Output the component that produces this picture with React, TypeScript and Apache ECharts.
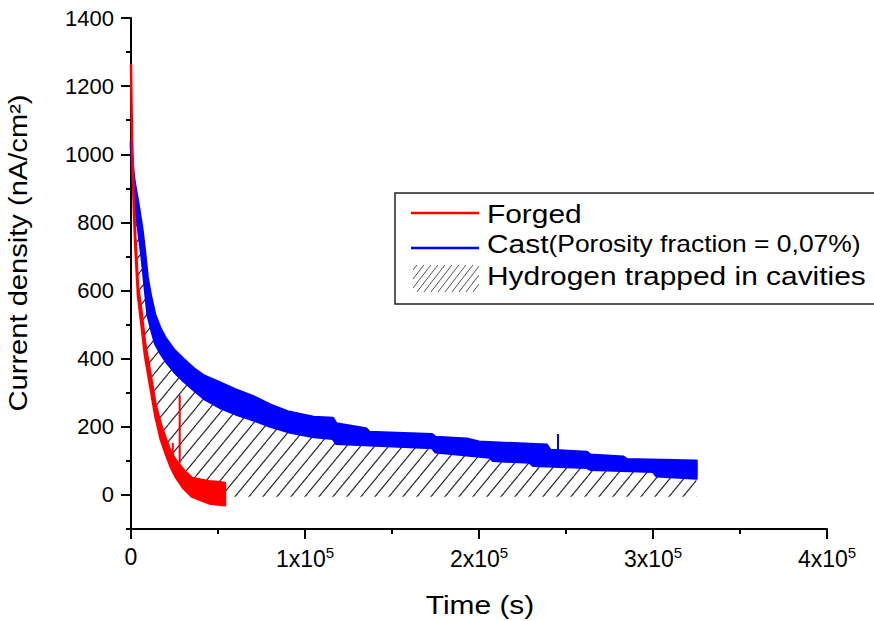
import React, { useEffect, useRef } from 'react';
import * as echarts from 'echarts';

// ---- data ----
// Forged (red) noisy band: upper and lower envelopes
const redT = [0, 300, 800, 1500, 2500, 4000, 6000, 8000, 11000, 14000, 17000, 20000, 23000, 26000, 30000, 35000, 40000, 45000, 50000, 54000];
const redUpper = [1262, 1150, 1010, 885, 755, 615, 540, 450, 360, 270, 210, 165, 125, 100, 75, 50, 45, 40, 38, 35];
const redLower = [1262, 1140, 990, 855, 725, 585, 500, 410, 320, 230, 165, 120, 80, 50, 20, -5, -15, -25, -28, -30];

// Cast (blue) noisy band: upper envelope
const blueUpperT = [0, 1000, 2000, 3400, 5000, 6500, 8000, 9500, 11400, 13800, 17000, 20000, 25000, 30000, 36000, 42000, 51000, 60000, 70000, 80000, 90000, 105000, 116000, 118000, 135000, 137000, 173000, 175000, 193000, 200000, 239000, 241000, 262000, 264000, 283000, 285000, 325000];
const blueUpperV = [1040, 965, 920, 880, 830, 780, 715, 640, 585, 530, 488, 460, 425, 400, 372, 350, 330, 310, 290, 265, 245, 229, 226, 210, 195, 185, 178, 170, 165, 156, 147, 132, 126, 118, 112, 105, 100];
// Cast (blue) noisy band: lower envelope
const blueLowerT = [0, 1000, 2000, 3400, 5000, 6500, 8000, 9500, 11400, 13800, 17000, 20000, 25000, 30000, 36000, 42000, 51000, 60000, 70000, 80000, 90000, 105000, 116000, 118000, 173000, 175000, 206000, 208000, 229000, 231000, 262000, 264000, 300000, 302000, 325000];
const blueLowerV = [1020, 925, 865, 810, 745, 680, 605, 530, 490, 445, 415, 392, 360, 335, 308, 282, 256, 237, 220, 201, 185, 170, 165, 150, 138, 125, 110, 100, 95, 86, 80, 74, 68, 55, 48];

const redSpikeT = [24000, 28000];
const redSpikeBase = [100, 94];
const redSpikePeak = [153, 293];
const blueSpikeT = [245400];
const blueSpikeBase = [125];
const blueSpikePeak = [179];

const hatchBase = -5;

const yMajorTicks = [0, 200, 400, 600, 800, 1000, 1200, 1400];
const yMinorTicks = [-100, 100, 300, 500, 700, 900, 1100, 1300];

const legendForged = 'Forged';
const legendCastMain = 'Cast';
const legendCastNote = '(Porosity fraction = 0,07%)';
const legendHatch = 'Hydrogen trapped in cavities';
const xTitle = 'Time (s)';
const yTitle = 'Current density (nA/cm²)';

const FONT = '"Liberation Sans", Arial, sans-serif';
const RED = '#ff0000';
const BLUE = '#0000ff';
const STRETCH = 1.15;

function makeHatch(w: number, h: number, color: string, lw: number) {
  const c = document.createElement('canvas');
  c.width = w;
  c.height = h;
  const ctx = c.getContext('2d')!;
  ctx.strokeStyle = color;
  ctx.lineWidth = lw;
  for (const off of [-w, 0, w]) {
    ctx.beginPath();
    ctx.moveTo(off, h);
    ctx.lineTo(off + w, 0);
    ctx.stroke();
  }
  return c;
}

export default function App() {
  const ref = useRef<HTMLDivElement>(null);
  useEffect(() => {
    if (!ref.current) return;
    const chart = echarts.init(ref.current, undefined, { renderer: 'svg' });
    const hatch = makeHatch(14, 17, '#2a2a2a', 1.2);
    const hatchSmall = makeHatch(7, 9, '#555555', 1);

    const band = (ut: number[], uv: number[], lt: number[], lv: number[], color: string) => ({
      type: 'custom',
      data: [[ut[0], uv[0]]],
      clip: false,
      renderItem: (_p: any, api: any) => {
        const pts: number[][] = [];
        for (let i = 0; i < ut.length; i++) pts.push(api.coord([ut[i], uv[i]]));
        for (let i = lt.length - 1; i >= 0; i--) pts.push(api.coord([lt[i], lv[i]]));
        return {
          type: 'polygon',
          shape: { points: pts },
          style: { fill: color, stroke: color, lineWidth: 2.5, lineJoin: 'round' },
        };
      },
    });

    const spikes = (t: number[], b: number[], p: number[], color: string) => ({
      type: 'custom',
      data: t.map((v, i) => [v, b[i], p[i]]),
      renderItem: (_p: any, api: any) => {
        const a = api.coord([api.value(0), api.value(1)]);
        const c = api.coord([api.value(0), api.value(2)]);
        return {
          type: 'line',
          shape: { x1: a[0], y1: a[1], x2: c[0], y2: c[1] },
          style: { stroke: color, lineWidth: 2 },
        };
      },
    });

    const hatchSeries = {
      type: 'custom',
      data: [[0, 0]],
      clip: false,
      renderItem: (_p: any, api: any) => {
        const pts: number[][] = [];
        for (let i = 0; i < blueLowerT.length; i++) pts.push(api.coord([blueLowerT[i], blueLowerV[i]]));
        pts.push(api.coord([blueLowerT[blueLowerT.length - 1], hatchBase]));
        pts.push(api.coord([redT[redT.length - 1], hatchBase]));
        for (let i = redT.length - 1; i >= 0; i--) pts.push(api.coord([redT[i], redUpper[i]]));
        return {
          type: 'polygon',
          shape: { points: pts },
          style: { fill: { image: hatch, repeat: 'repeat' } as any },
        };
      },
    };

    const axisLine = { show: true, onZero: false, lineStyle: { color: '#000', width: 2 } };

    chart.setOption({
      animation: false,
      grid: { left: 131, right: 47, top: 18, bottom: 92 },
      xAxis: {
        type: 'value',
        min: 0,
        max: 400000,
        interval: 100000,
        axisLine,
        axisTick: { show: true, length: 10, lineStyle: { color: '#000', width: 2 } },
        minorTick: { show: true, splitNumber: 2, length: 5, lineStyle: { color: '#000', width: 2 } },
        splitLine: { show: false },
        axisLabel: {
          margin: 16,
          fontSize: 23,
          fontFamily: FONT,
          color: '#000',
          formatter: (v: number) => (v === 0 ? '{b|0}' : `{b|${v / 100000}x10}{s|5}`),
          rich: {
            b: { fontSize: 23, fontFamily: FONT, color: '#000' },
            s: { fontSize: 15, fontFamily: FONT, color: '#000', padding: [0, 0, 13, 0] },
          },
        },
      },
      yAxis: [
        {
          type: 'value',
          min: -100,
          max: 1400,
          interval: 100,
          axisLine,
          axisTick: { show: true, length: 10, customValues: yMajorTicks, lineStyle: { color: '#000', width: 2 } },
          axisLabel: {
            customValues: yMajorTicks,
            fontSize: 22,
            fontFamily: FONT,
            color: '#000',
            margin: 17,
            formatter: (v: number) => String(v),
          },
          splitLine: { show: false },
        },
        {
          type: 'value',
          min: -100,
          max: 1400,
          interval: 100,
          position: 'left',
          axisLine: { show: false },
          axisTick: { show: true, length: 5, customValues: yMinorTicks, lineStyle: { color: '#000', width: 2 } },
          axisLabel: { show: false },
          splitLine: { show: false },
        },
      ],
      series: [
        { ...hatchSeries, z: 1 },
        { ...band(blueUpperT, blueUpperV, blueLowerT, blueLowerV, BLUE), z: 2 },
        { ...spikes(blueSpikeT, blueSpikeBase, blueSpikePeak, BLUE), z: 2 },
        { ...band(redT, redUpper, redT, redLower, RED), z: 3 },
        { ...spikes(redSpikeT, redSpikeBase, redSpikePeak, RED), z: 3 },
      ],
      graphic: [
        {
          type: 'text',
          x: 18,
          y: 253,
          rotation: Math.PI / 2,
          scaleX: 1.12,
          style: { text: yTitle, fontSize: 26, fontFamily: FONT, fill: '#000', align: 'center', verticalAlign: 'middle' },
        },
        {
          type: 'text',
          x: 480,
          y: 605,
          scaleX: STRETCH,
          style: { text: xTitle, fontSize: 26, fontFamily: FONT, fill: '#000', align: 'center', verticalAlign: 'middle' },
        },
        {
          type: 'rect',
          shape: { x: 395, y: 193, width: 490, height: 111 },
          style: { fill: '#fff', stroke: '#222', lineWidth: 1.5 },
          z: 10,
        },
        { type: 'line', shape: { x1: 411, y1: 213, x2: 479, y2: 213 }, style: { stroke: RED, lineWidth: 2.5 }, z: 11 },
        { type: 'line', shape: { x1: 411, y1: 248, x2: 479, y2: 248 }, style: { stroke: BLUE, lineWidth: 2.5 }, z: 11 },
        {
          type: 'rect',
          shape: { x: 413, y: 265, width: 66, height: 27 },
          style: { fill: { image: hatchSmall, repeat: 'repeat' } as any },
          z: 11,
        },
        {
          type: 'text',
          x: 487,
          y: 214,
          z: 11,
          scaleX: STRETCH,
          style: { text: legendForged, fontSize: 26, fontFamily: FONT, fill: '#000', verticalAlign: 'middle' },
        },
        {
          type: 'text',
          x: 487,
          y: 244,
          z: 11,
          scaleX: STRETCH,
          style: {
            text: `{m|${legendCastMain}}{n|${legendCastNote}}`,
            verticalAlign: 'middle',
            rich: {
              m: { fontSize: 26, fontFamily: FONT, fill: '#000' },
              n: { fontSize: 23, fontFamily: FONT, fill: '#000' },
            },
          },
        },
        {
          type: 'text',
          x: 487,
          y: 276,
          z: 11,
          scaleX: STRETCH,
          style: { text: legendHatch, fontSize: 26, fontFamily: FONT, fill: '#000', verticalAlign: 'middle' },
        },
      ],
    });
    return () => chart.dispose();
  }, []);
  return <div ref={ref} style={{ position: 'fixed', left: 0, top: 0, width: 874, height: 621, background: '#fff' }} />;
}
